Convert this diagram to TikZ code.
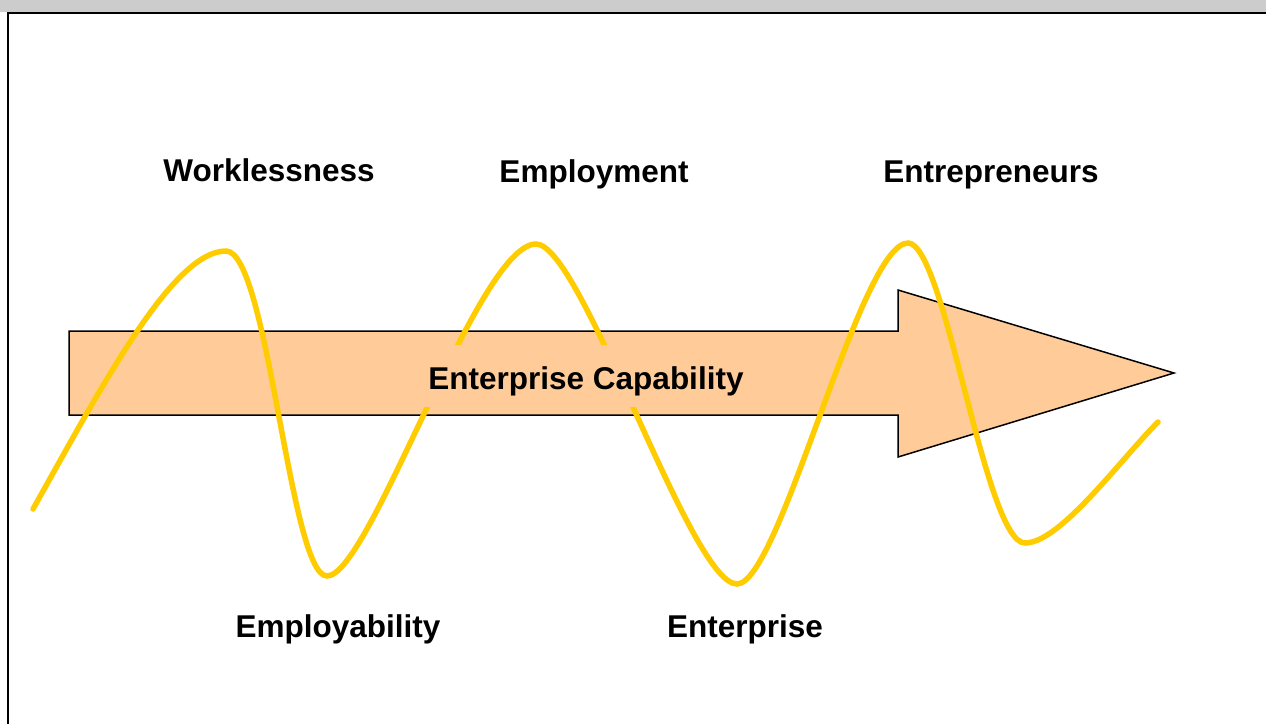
\documentclass[tikz,border=0pt]{standalone}
\usepackage{fontspec}
\setmainfont{Liberation Sans}
\usepackage{tikz}
\usetikzlibrary{positioning}
\definecolor{peach}{HTML}{FFCC99}
\definecolor{gold}{HTML}{FFCC00}
\definecolor{strip}{HTML}{CCCCCC}
\tikzset{
  stage/.style={anchor=base, font=\bfseries\fontsize{31.5}{36}\selectfont},
  wave/.style={color=gold, line width=5.5pt, line cap=round},
}

\begin{document}
\begin{tikzpicture}[x=1pt,y=-1pt]
\useasboundingbox (0,0) rectangle (1266,724);
\edef\top{331}
\edef\bot{415}
\edef\neck{898}

\fill[strip](0,0) rectangle (1266,12);
\fill[white](8,14) rectangle (1266,724);
\draw[line width=2.5pt](1266,13) -- (8,13) -- (8,724);

\filldraw[fill=peach, draw=black, line width=1.5pt]
  (69,\top) -- (\neck,\top) -- (\neck,290) -- (1174,373)
  -- (\neck,457) -- (\neck,\bot) -- (69,\bot) -- cycle;

\draw[wave](33,509) .. controls (100,390) and (172,251) .. (226,251)
  .. controls (268,251) and (290,576) .. (327,576)
  .. controls (370,576) and (478,244) .. (536,244)
  .. controls (582,244) and (690,584) .. (737,584)
  .. controls (780,584) and (860,243) .. (908,243)
  .. controls (945,243) and (985,543) .. (1025,543)
  .. controls (1060,543) and (1120,460) .. (1158,422);

\node[stage, fill=peach, inner xsep=8pt, inner ysep=0pt, text height=44pt, text depth=18pt] (capability) at (586,389) {Enterprise Capability};

\node[stage] (worklessness) at (269,181) {Worklessness};
\node[stage] (employment) at (594,182) {Employment};
\node[stage] (entrepreneurs) at (991,182) {Entrepreneurs};
\node[stage] (employability) at (338,637) {Employability};
\node[stage] (enterprise) at (745,637) {Enterprise};
\end{tikzpicture}
\end{document}
